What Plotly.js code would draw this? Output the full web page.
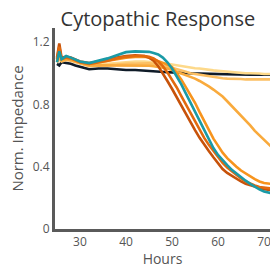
<!DOCTYPE html>
<html>
<head>
<meta charset="utf-8">
<script src="https://cdn.plot.ly/plotly-3.0.1.min.js"></script>
<style>html,body{margin:0;padding:0;background:#fff;}#chart{width:270px;height:268px;}</style>
</head>
<body>
<div id="chart"></div>
<script>
const hours = [25,25.5,26,27,28,29,30,32,34,36,38,40,42,44,45,46,47,48,49,50,51,52,53,54,55,56,57,58,59,60,61,62,63,64,65,66,67,68,69,70,71.5];

const seriesNames = ["Control C","Control A","Control B","Dose 1","Dose 2","Dose 3","Dose 4","Dose 5"];
const seriesColors = ["#0f1b28","#fdd98a","#fcbf62","#f9aa3c","#f7941d","#c7520a","#e26a0e","#1a9aa6"];

const black = [1.06,1.05,1.07,1.065,1.06,1.05,1.04,1.025,1.03,1.03,1.025,1.02,1.02,1.015,1.013,1.012,1.01,1.008,1.006,1.005,1.003,1.0,0.999,0.998,0.998,0.997,0.996,0.995,0.995,0.995,0.994,0.993,0.993,0.992,0.991,0.99,0.99,0.99,0.99,0.99,0.99];
const lightYellow = [1.08,1.10,1.08,1.09,1.085,1.075,1.065,1.05,1.055,1.06,1.065,1.07,1.075,1.075,1.073,1.07,1.068,1.065,1.06,1.055,1.05,1.045,1.04,1.035,1.032,1.03,1.025,1.02,1.018,1.015,1.012,1.01,1.008,1.005,1.003,1.0,1.0,1.0,0.998,0.995,0.995];
const paleOrange = [1.07,1.09,1.075,1.085,1.08,1.07,1.06,1.045,1.048,1.05,1.055,1.06,1.063,1.065,1.063,1.06,1.055,1.05,1.043,1.035,1.028,1.02,1.01,1.0,0.995,0.99,0.985,0.98,0.975,0.97,0.968,0.965,0.965,0.965,0.963,0.96,0.96,0.96,0.96,0.96,0.96];
const slowOrange = [1.07,1.11,1.08,1.09,1.085,1.075,1.065,1.05,1.05,1.05,1.05,1.05,1.05,1.05,1.048,1.045,1.04,1.035,1.03,1.02,1.01,1.0,0.99,0.98,0.965,0.95,0.935,0.915,0.895,0.875,0.85,0.82,0.79,0.76,0.73,0.70,0.665,0.63,0.60,0.57,0.53];
const brightOrange = [1.08,1.15,1.09,1.10,1.095,1.085,1.07,1.06,1.07,1.08,1.09,1.10,1.105,1.105,1.10,1.09,1.08,1.065,1.055,1.04,1.0,0.96,0.91,0.86,0.81,0.75,0.69,0.63,0.58,0.535,0.49,0.455,0.425,0.40,0.375,0.355,0.335,0.32,0.305,0.295,0.29];
const darkOrange = [1.10,1.19,1.10,1.105,1.10,1.09,1.075,1.065,1.075,1.085,1.10,1.11,1.115,1.11,1.10,1.08,1.045,1.0,0.95,0.90,0.845,0.79,0.735,0.685,0.635,0.585,0.54,0.50,0.46,0.42,0.385,0.36,0.34,0.32,0.305,0.29,0.28,0.27,0.26,0.255,0.25];
const midOrange = [1.09,1.17,1.09,1.10,1.095,1.085,1.07,1.06,1.07,1.08,1.095,1.105,1.11,1.11,1.105,1.095,1.075,1.045,1.005,0.96,0.91,0.855,0.80,0.745,0.69,0.635,0.585,0.54,0.50,0.46,0.425,0.395,0.37,0.345,0.325,0.305,0.29,0.28,0.27,0.265,0.26];
const teal = [1.07,1.14,1.09,1.11,1.10,1.09,1.075,1.065,1.08,1.095,1.115,1.135,1.14,1.14,1.137,1.13,1.12,1.10,1.07,1.03,0.98,0.93,0.87,0.81,0.75,0.69,0.63,0.57,0.52,0.475,0.44,0.41,0.38,0.355,0.33,0.31,0.29,0.27,0.255,0.24,0.23];

const xTicks = [30,40,50,60,70];
const yTicks = [0,0.4,0.8,1.2];
const yTickText = ["0","0.4","0.8","1.2"];

const allSeries = [black, lightYellow, paleOrange, slowOrange, brightOrange, darkOrange, midOrange, teal];

const traces = allSeries.map((ys, i) => ({
  x: hours, y: ys, type: "scatter", mode: "lines",
  name: seriesNames[i],
  line: {color: seriesColors[i], width: 2.6},
  hoverinfo: "skip"
}));

const font = "'Open Sans', 'Noto Sans', sans-serif";
const layout = {
  width: 270, height: 268,
  margin: {l: 55, r: 0, t: 28, b: 39},
  paper_bgcolor: "#fff", plot_bgcolor: "#fff",
  showlegend: false,
  font: {family: font, color: "#555", size: 12},
  title: {text: "Cytopathic Response", font: {family: font, size: 20, color: "#333"},
          x: 0.585, xanchor: "center", xref: "container", y: 0.93, yanchor: "middle", yref: "container"},
  xaxis: {
    range: [24.57, 71.3], tickvals: xTicks, ticktext: xTicks.map(String),
    showgrid: false, zeroline: false, showline: true, linecolor: "#5a5a5a", linewidth: 3,
    ticks: "", tickfont: {size: 12, color: "#555"}, ticklabeloverflow: "allow",
    title: {text: "Hours", font: {size: 14, color: "#555"}, standoff: 9}
  },
  yaxis: {
    range: [0, 1.29], tickvals: yTicks, ticktext: yTickText,
    showgrid: false, zeroline: false, showline: true, linecolor: "#5a5a5a", linewidth: 3,
    ticks: "", tickfont: {size: 12, color: "#555"},
    title: {text: "Norm. Impedance", font: {size: 15, color: "#555"}, standoff: 6}
  }
};

Plotly.newPlot("chart", traces, layout, {displayModeBar: false, staticPlot: true});
</script>
</body>
</html>
